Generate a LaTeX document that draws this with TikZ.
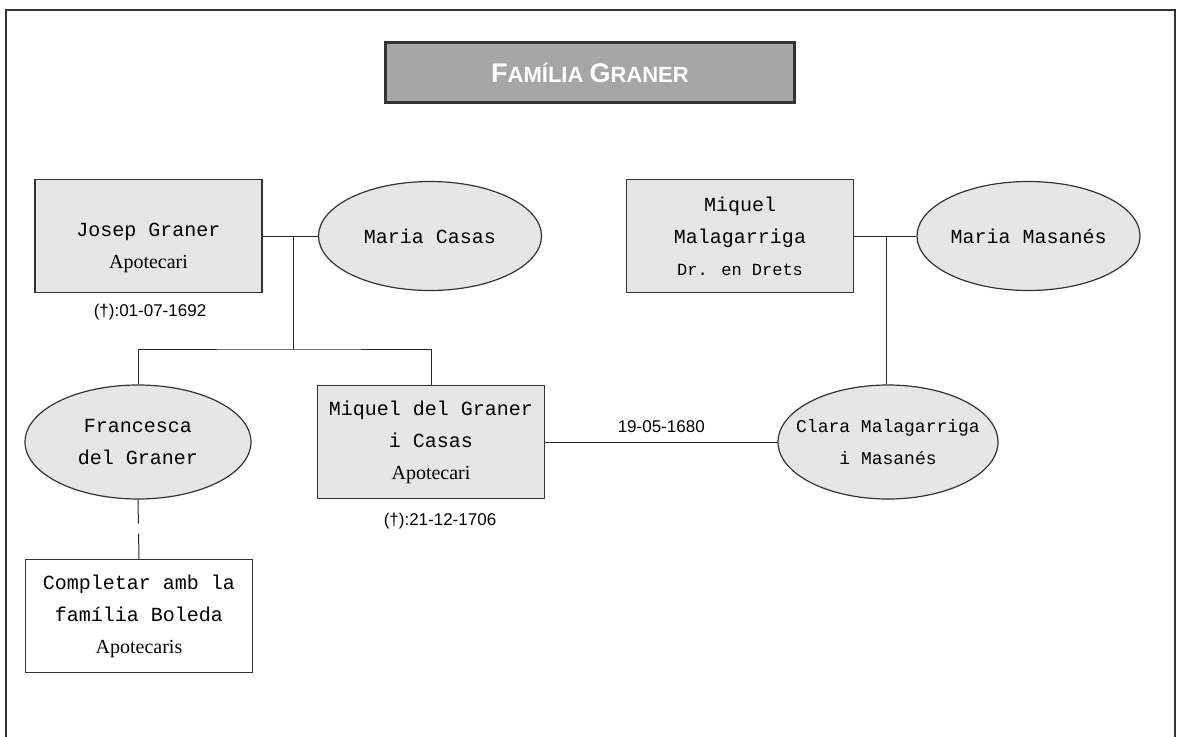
\documentclass[tikz,border=0pt]{standalone}
\usepackage{fontspec}
\setmainfont{Liberation Serif}
\newfontfamily\namefont{Liberation Mono}
\newfontfamily\datefont{Liberation Sans}
\usetikzlibrary{shapes.geometric}
\definecolor{boxgrey}{HTML}{E6E6E6}
\definecolor{titlegrey}{HTML}{A6A6A6}
\definecolor{edgegrey}{HTML}{333333}
\newcommand{\role}[1]{{\rmfamily\fontsize{20}{32}\selectfont #1}}
\newcommand{\initial}[1]{{\fontsize{27}{27}\selectfont #1}}
\tikzset{
	person/.style={draw=edgegrey, fill=boxgrey, line width=1.2pt, minimum width=227pt, minimum height=113pt, inner sep=0pt, align=center, font=\namefont\fontsize{20}{32}\selectfont},
	spouse/.style={ellipse, draw=edgegrey, fill=boxgrey, line width=1.2pt, minimum width=223pt, minimum height=109pt, inner sep=0pt, align=center, font=\namefont\fontsize{20}{32}\selectfont},
	persontext/.style={inner sep=0pt, align=center, font=\namefont\fontsize{20}{32}\selectfont},
	link/.style={draw=black!85, line width=1pt},
	datetext/.style={inner sep=0pt, font=\datefont\fontsize{17}{17}\selectfont},
	titlebox/.style={draw=black!80, fill=titlegrey, line width=2.2pt, minimum width=409pt, minimum height=60pt, text=white, font=\datefont\bfseries\fontsize{22}{22}\selectfont}
}
\begin{document}
\begin{tikzpicture}[x=1pt, y=-1pt]
	\useasboundingbox (0,0) rectangle (1177,736);
	\draw[edgegrey, line width=2pt] (6,750) -- (6,10) -- (1175,10) -- (1175,750);
	\node[titlebox] (title) at (590,72.5) {\initial{F}AMÍLIA \initial{G}RANER};

	\node[person] (josep) at (148.5,236) {}; \node[persontext] (josepname) at ([yshift=-12pt]josep.center) {Josep Graner\\\role{Apotecari}};
	\node[spouse] (mariacasas) at (430,236) {Maria Casas};
	\node[datetext] (josepdeath) at (150,312) {(†):01-07-1692};
	\node[person] (malagarriga) at (740,236) {Miquel\\Malagarriga\\{\fontsize{17}{32}\selectfont Dr. en Drets}};
	\node[spouse] (masanes) at (1028.5,236) {Maria Masanés};

	\node[spouse, minimum width=226pt, minimum height=114pt] (francesca) at (138,442) {Francesca\\del Graner};
	\node[person] (miquel) at (431,442) {Miquel del Graner\\i Casas\\\role{Apotecari}};
	\node[datetext] (miqueldeath) at (440,521) {(†):21-12-1706};
	\node[spouse, minimum width=220pt, minimum height=114pt] (clara) at (888,442) {}; \node[persontext, font=\namefont\fontsize{18}{32}\selectfont] (claraname) at (clara.center) {Clara Malagarriga\\i Masanés};
	\node[person, fill=white] (completar) at (139,616) {Completar amb la\\família Boleda\\\role{Apotecaris}};

	\coordinate (parents) at (293,236); \coordinate (kids) at (293,349); \coordinate (inlaws) at (886,236);
	\draw[link] (josep.east) -- (mariacasas.west);
	\draw[link] (parents) -- (kids);
	\draw[link] (francesca.north) |- (kids) -| (miquel.north);
	\draw[link] (malagarriga.east) -- (masanes.west);
	\draw[link] (inlaws) -- (inlaws |- clara.north);
	\draw[link] (miquel.east) -- node[datetext, above=9pt] (wedding) {19-05-1680} (clara.west);
	\draw[link, dash pattern=on 24pt off 10pt on 40pt] (francesca.south) -- (completar.north);
\end{tikzpicture}
\end{document}
